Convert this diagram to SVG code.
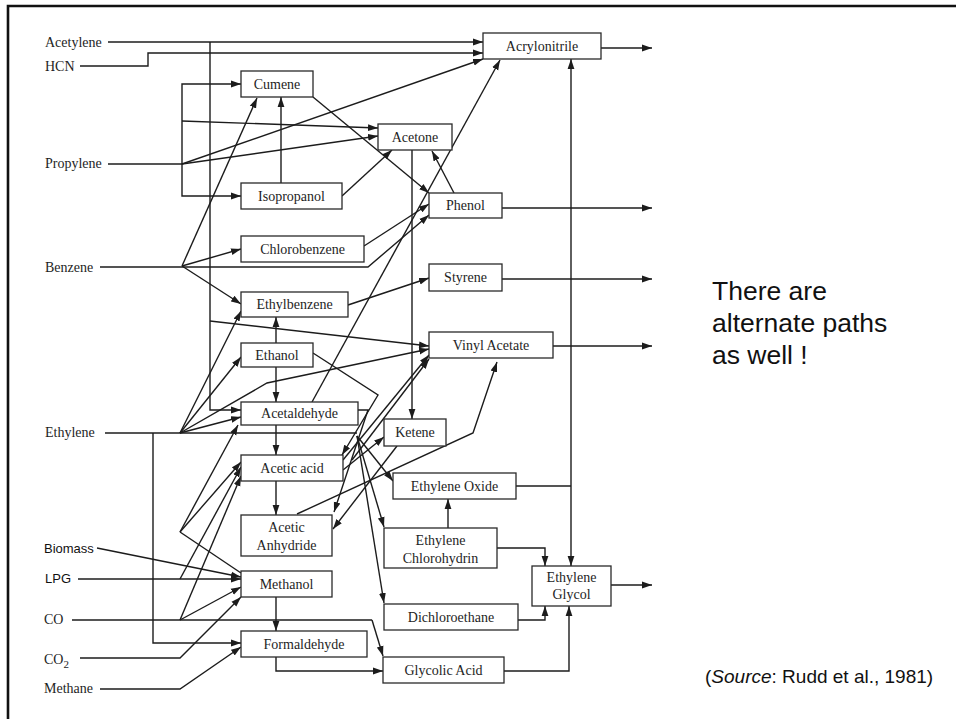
<svg xmlns="http://www.w3.org/2000/svg" width="956" height="719" viewBox="0 0 956 719">
<defs>
<marker id="a" markerWidth="11" markerHeight="8" refX="10" refY="4" orient="auto" markerUnits="userSpaceOnUse"><path d="M0,0.6 L10,4 L0,7.4 z" fill="#1c1c1c"/></marker>
<style>
.ln{fill:none;stroke:#1c1c1c;stroke-width:1.4}
.ar{marker-end:url(#a)}
.box{fill:#fff;stroke:#2a2a2a;stroke-width:1.3}
.t{font-family:"Liberation Serif","DejaVu Serif",serif;font-size:14px;fill:#1e1e1e}
.c{text-anchor:middle}
.s{font-family:"Liberation Sans",Arial,sans-serif;fill:#111}
</style>
</defs>
<rect width="956" height="719" fill="#fff"/>
<path d="M8,719 V6 H956" fill="none" stroke="#111" stroke-width="2.6"/>

<g id="connectors">
<path class="ln ar" d="M108,42 H483"/>
<path class="ln ar" d="M210,42 V410 H241"/>
<path class="ln ar" d="M210,321 L429,346"/>
<path class="ln ar" d="M80,66 H148 V53 H483"/>
<path class="ln" d="M108,164 H182"/>
<path class="ln ar" d="M182,164 V84 H241"/>
<path class="ln ar" d="M182,164 V196 H241"/>
<path class="ln ar" d="M182,121 L378,128"/>
<path class="ln ar" d="M182,164 L378,136"/>
<path class="ln ar" d="M182,164 L483,59"/>
<path class="ln ar" d="M313,97 L429,193"/>
<path class="ln ar" d="M281,183 V97"/>
<path class="ln ar" d="M342,196 L392,150"/>
<path class="ln ar" d="M454,193 L432,151"/>
<path class="ln ar" d="M412,150 V419"/>
<path class="ln ar" d="M601,48 H652"/>
<path class="ln ar" d="M502,208 H652"/>
<path class="ln ar" d="M502,279 H652"/>
<path class="ln ar" d="M553,346 H652"/>
<path class="ln ar" d="M611,585 H652"/>
<path class="ln ar" d="M100,267 H368 L429,215"/>
<path class="ln ar" d="M182,266 L241,249"/>
<path class="ln ar" d="M182,266 L241,304"/>
<path class="ln ar" d="M182,266 L257,98"/>
<path class="ln ar" d="M364,246 L429,204"/>
<path class="ln ar" d="M348,305 L429,278"/>
<path class="ln ar" d="M276,343 V317"/>
<path class="ln ar" d="M276,367 V402"/>
<path class="ln ar" d="M276,425 V455"/>
<path class="ln ar" d="M276,481 V515"/>
<path class="ln ar" d="M276,597 V631"/>
<path class="ln ar" d="M276,657 V671 H383"/>
<path class="ln ar" d="M504,671 H569 V606"/>
<path class="ln ar" d="M518,620 H545 V606"/>
<path class="ln ar" d="M497,548 H545 V566"/>
<path class="ln ar" d="M448,528 V499"/>
<path class="ln" d="M516,486 H571"/>
<path class="ln ar" d="M571,486 V59"/>
<path class="ln ar" d="M571,486 V566"/>
<path class="ln ar" d="M312,402 L500,60"/>
<path class="ln" d="M105,433 H357"/>
<path class="ln ar" d="M180,433 L241,311"/>
<path class="ln ar" d="M180,433 L241,357"/>
<path class="ln ar" d="M180,433 L267,383 L429,349"/>
<path class="ln ar" d="M180,433 L241,417"/>
<path class="ln ar" d="M153,433 V643 H241"/>
<path class="ln ar" d="M357,436 L393,481"/>
<path class="ln ar" d="M357,436 L384,527"/>
<path class="ln ar" d="M357,436 L384,603"/>
<path class="ln ar" d="M313,353 L378,395 L342,455"/>
<path class="ln ar" d="M358,410 L368,410 L334,512"/>
<path class="ln ar" d="M343,460 L429,355"/>
<path class="ln ar" d="M352,460 L429,359"/>
<path class="ln ar" d="M343,470 L384,437"/>
<path class="ln ar" d="M397,446 L333,529"/>
<path class="ln ar" d="M297,514 L473,433 L497,362"/>
<path class="ln" d="M241,573 L180,532"/>
<path class="ln ar" d="M180,532 L238,425"/>
<path class="ln ar" d="M180,532 L241,462"/>
<path class="ln ar" d="M97,548 L241,577"/>
<path class="ln ar" d="M78,579 H241"/>
<path class="ln ar" d="M180,579 L241,467"/>
<path class="ln" d="M72,620 H372"/>
<path class="ln ar" d="M372,620 L383,656"/>
<path class="ln ar" d="M180,620 L241,587"/>
<path class="ln ar" d="M180,620 L241,476"/>
<path class="ln ar" d="M80,658 H180 L241,597"/>
<path class="ln ar" d="M100,689 H180 L241,647"/>
</g>

<g id="inputs" class="t">
<text x="45" y="47">Acetylene</text>
<text x="45" y="71">HCN</text>
<text x="45" y="168">Propylene</text>
<text x="45" y="272">Benzene</text>
<text x="45" y="437">Ethylene</text>
<text x="44" y="553" class="s" font-size="13">Biomass</text>
<text x="45" y="583" class="s" font-size="13">LPG</text>
<text x="44" y="624">CO</text>
<text x="44" y="664">CO<tspan font-size="11" dy="4">2</tspan></text>
<text x="44" y="693">Methane</text>
</g>

<g id="acrylonitrile"><rect class="box" x="483" y="33" width="118" height="26"/><text class="t c" x="542" y="51">Acrylonitrile</text></g>
<g id="cumene"><rect class="box" x="241" y="71" width="72" height="26"/><text class="t c" x="277" y="89">Cumene</text></g>
<g id="acetone"><rect class="box" x="378" y="124" width="74" height="26"/><text class="t c" x="415" y="142">Acetone</text></g>
<g id="isopropanol"><rect class="box" x="241" y="183" width="101" height="26"/><text class="t c" x="291.5" y="201">Isopropanol</text></g>
<g id="phenol"><rect class="box" x="429" y="193" width="73" height="25"/><text class="t c" x="465.5" y="210">Phenol</text></g>
<g id="chlorobenzene"><rect class="box" x="241" y="236" width="123" height="26"/><text class="t c" x="302.5" y="254">Chlorobenzene</text></g>
<g id="styrene"><rect class="box" x="429" y="264" width="73" height="27"/><text class="t c" x="465.5" y="282">Styrene</text></g>
<g id="ethylbenzene"><rect class="box" x="241" y="292" width="107" height="25"/><text class="t c" x="294.5" y="309">Ethylbenzene</text></g>
<g id="vinyl-acetate"><rect class="box" x="429" y="332" width="124" height="26"/><text class="t c" x="491" y="350">Vinyl Acetate</text></g>
<g id="ethanol"><rect class="box" x="241" y="343" width="72" height="24"/><text class="t c" x="277" y="360">Ethanol</text></g>
<g id="acetaldehyde"><rect class="box" x="241" y="402" width="117" height="23"/><text class="t c" x="299.5" y="418">Acetaldehyde</text></g>
<g id="ketene"><rect class="box" x="384" y="419" width="62" height="27"/><text class="t c" x="415" y="437">Ketene</text></g>
<g id="acetic-acid"><rect class="box" x="241" y="455" width="102" height="26"/><text class="t c" x="292" y="473">Acetic acid</text></g>
<g id="ethylene-oxide"><rect class="box" x="393" y="473" width="123" height="26"/><text class="t c" x="454.5" y="491">Ethylene Oxide</text></g>
<g id="acetic-anhydride"><rect class="box" x="241" y="515" width="91" height="41"/><text class="t c" x="286.5" y="532">Acetic</text><text class="t c" x="286.5" y="550">Anhydride</text></g>
<g id="ethylene-chlorohydrin"><rect class="box" x="384" y="528" width="113" height="40"/><text class="t c" x="440.5" y="545">Ethylene</text><text class="t c" x="440.5" y="563">Chlorohydrin</text></g>
<g id="ethylene-glycol"><rect class="box" x="532" y="566" width="79" height="40"/><text class="t c" x="571.5" y="582">Ethylene</text><text class="t c" x="571.5" y="599">Glycol</text></g>
<g id="methanol"><rect class="box" x="241" y="571" width="91" height="26"/><text class="t c" x="286.5" y="589">Methanol</text></g>
<g id="dichloroethane"><rect class="box" x="384" y="604" width="134" height="26"/><text class="t c" x="451" y="622">Dichloroethane</text></g>
<g id="formaldehyde"><rect class="box" x="241" y="631" width="126" height="26"/><text class="t c" x="304" y="649">Formaldehyde</text></g>
<g id="glycolic-acid"><rect class="box" x="383" y="657" width="121" height="26"/><text class="t c" x="443.5" y="675">Glycolic Acid</text></g>

<g id="notes" class="s">
<text x="712" y="300" font-size="26.5">There are</text>
<text x="712" y="332" font-size="26.5">alternate paths</text>
<text x="712" y="364" font-size="26.5">as well !</text>
<text x="705" y="683" font-size="19">(<tspan font-style="italic">Source</tspan>: Rudd et al., 1981)</text>
</g>
</svg>
